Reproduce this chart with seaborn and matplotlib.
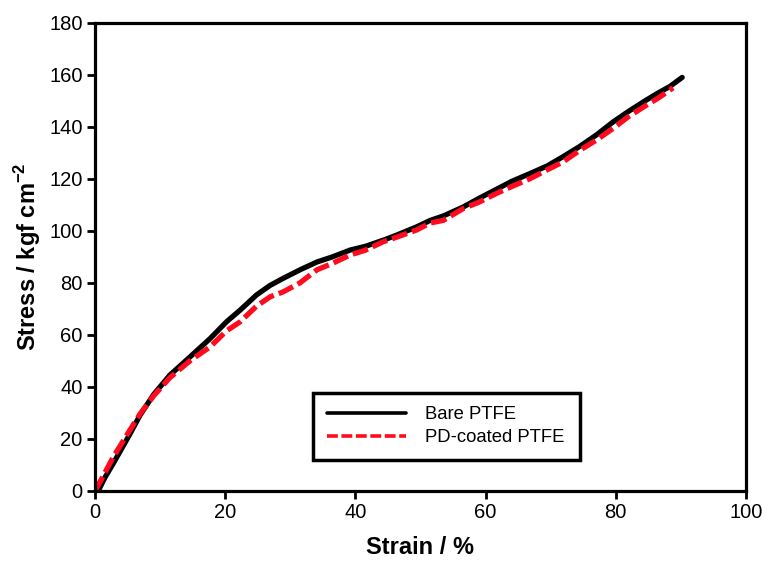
import matplotlib
matplotlib.use("Agg")
import matplotlib.pyplot as plt
import seaborn as sns
import pandas as pd

# strain (%) and stress (kgf cm^-2)
bare_strain = [0.5, 1.5, 2.8, 5.4, 6.9, 9.0, 11.5, 14.6, 17.7, 20.2, 22.3, 24.8,
               26.9, 28.9, 31.5, 34.1, 36.5, 39.2, 41.5, 44.3, 46.3, 49.4, 51.5,
               53.5, 56.6, 59.0, 61.7, 64.0, 66.8, 69.5, 71.9, 74.5, 77.1, 79.6,
               82.0, 84.7, 86.5, 88.3, 90.2]
bare_stress = [0.0, 5.0, 10.5, 22.0, 29.0, 37.0, 44.5, 51.5, 58.6, 65.0, 69.5, 75.3,
               79.0, 81.7, 85.0, 88.0, 90.0, 92.6, 94.0, 96.4, 98.3, 101.5, 104.0,
               105.7, 109.2, 112.5, 116.0, 119.0, 122.0, 125.0, 128.5, 132.5, 137.0,
               141.9, 146.0, 150.3, 153.0, 155.5, 159.0]

pd_strain = [0.0, 1.0, 2.8, 5.4, 6.9, 9.0, 11.5, 14.6, 17.7, 20.2, 22.3, 24.8,
             26.9, 28.9, 31.5, 34.1, 36.5, 39.2, 41.5, 44.3, 46.3, 49.4, 51.5,
             53.5, 56.6, 59.0, 61.7, 64.0, 66.8, 69.5, 71.9, 74.5, 77.1, 79.6,
             82.0, 84.7, 86.5, 88.8]
pd_stress = [0.0, 4.5, 13.0, 23.5, 29.5, 36.5, 43.5, 50.0, 55.4, 61.5, 65.0, 71.0,
             74.6, 76.5, 80.0, 85.0, 87.5, 90.7, 92.5, 95.8, 97.5, 100.3, 103.0,
             104.0, 108.6, 111.0, 114.4, 117.0, 120.0, 123.5, 126.5, 131.0, 135.0,
             139.4, 144.0, 148.3, 151.0, 155.0]

sns.set_theme(style="ticks")
plt.rcParams['font.family'] = ['Liberation Sans', 'DejaVu Sans']
plt.rcParams['mathtext.fontset'] = 'custom'
plt.rcParams['mathtext.bf'] = 'Liberation Sans:bold'
plt.rcParams['mathtext.rm'] = 'Liberation Sans'
plt.rcParams['text.color'] = 'black'
plt.rcParams['axes.labelcolor'] = 'black'

bare = pd.DataFrame({'strain': bare_strain, 'stress': bare_stress})
coated = pd.DataFrame({'strain': pd_strain, 'stress': pd_stress})

fig = plt.figure(figsize=(7.7, 5.7), dpi=100)
ax = fig.add_axes([0.1234, 0.139, 0.8454, 0.821])

sns.lineplot(data=bare, x='strain', y='stress', sort=False, ax=ax,
             color='black', linewidth=3.8, label='Bare PTFE')
sns.lineplot(data=coated, x='strain', y='stress', sort=False, ax=ax,
             color='#ff0a1e', linewidth=3.8, linestyle=(0, (3, 1)),
             label='PD-coated PTFE')

ax.set_xlim(0, 100)
ax.set_ylim(0, 180)
ax.set_xticks(range(0, 101, 20))
ax.set_yticks(range(0, 181, 20))
ax.tick_params(axis='both', which='both', direction='out', length=6, width=2,
               labelsize=14.5, colors='black', pad=3)
ax.tick_params(top=False, right=False)
for side in ['left', 'bottom', 'top', 'right']:
    ax.spines[side].set_visible(True)
    ax.spines[side].set_linewidth(2.3)
    ax.spines[side].set_color('black')

ax.set_xlabel('Strain / %', fontsize=17, fontweight='bold', labelpad=10)
ax.set_ylabel(r'Stress / kgf cm$^{\mathbf{-2}}$', fontsize=17, fontweight='bold', labelpad=4)

leg = ax.legend(loc='lower left', bbox_to_anchor=(0.335, 0.066, 0.41, 0.15),
                mode='expand', fontsize=13.3, frameon=True, fancybox=False,
                framealpha=1, handlelength=4.3, handletextpad=1.0, borderpad=0.75,
                labelspacing=0.3, borderaxespad=0)
leg.get_frame().set_edgecolor('black')
leg.get_frame().set_linewidth(2.5)
for line in leg.get_lines():
    line.set_linewidth(2.6)
for t in leg.get_texts():
    t.set_color('black')

fig.savefig('out.png', dpi=100)
